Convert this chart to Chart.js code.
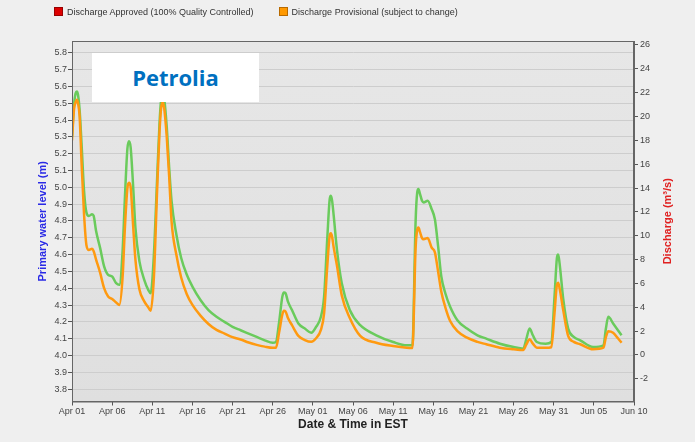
<!DOCTYPE html>
<html>
<head>
<meta charset="utf-8">
<script src="https://cdn.jsdelivr.net/npm/chart.js@4"></script>
<style>
  body { margin: 0; background: #efefef; }
  #wrap { position: relative; width: 695px; height: 442px; }
  #legend { position: absolute; left: 54px; top: 7px; font: 9px "Liberation Sans", Arial, sans-serif; color: #333; white-space: nowrap; }
  #legend span.item { display: inline-block; margin-right: 25px; }
  #legend i { display: inline-block; width: 7px; height: 7px; margin-right: 4px; vertical-align: -1px; }
  #station { position: absolute; left: 92px; top: 53px; width: 167px; height: 49px; background: #fff;
    font: bold 22px "Open Sans", sans-serif; color: #0070c0; text-align: center; line-height: 49px; }
</style>
</head>
<body>
<div id="wrap">
  <canvas id="chart" width="695" height="442"></canvas>
  <div id="legend"></div>
  <div id="station">Petrolia</div>
</div>
<script>
// days since Apr 01
const days = [
  0, 0.25, 0.45, 0.6, 0.75, 0.95, 1.2, 1.5, 1.8, 2.1, 2.5, 2.7, 3.0, 3.5, 4.0, 4.5, 5.0, 5.5, 5.9,
  6.3, 6.6, 6.9, 7.1, 7.3, 7.6, 7.9, 8.4, 9.0, 9.5, 9.8, 10.2, 10.6, 10.9, 11.1, 11.3, 11.5, 11.8,
  12.1, 12.4, 13.0, 13.6, 14.3, 15.0, 16.0, 17.0, 18.0, 19.0, 20.0, 21.0, 22.0, 23.0,
  24.0, 25.0, 25.4, 25.8, 26.2, 26.4, 26.6, 26.9, 27.4, 28.2, 29.0, 29.8, 30.4, 31.0, 31.4,
  31.8, 32.1, 32.25, 32.4, 32.6, 33.0, 33.6, 34.6, 35.9, 37.9, 40.0, 41.7, 42.4, 42.8, 43.0, 43.15, 43.35,
  43.6, 43.8, 44.3, 44.8, 45.2, 45.6, 46.0, 46.5, 47.1, 48.0, 49.2, 50.5, 51.6, 53.3, 55.0,
  56.2, 56.6, 57.0, 57.4, 57.9, 59.0, 59.7, 60.1, 60.4, 60.55, 60.7, 61.2, 61.8, 62.5, 63.3,
  64.9, 66.2, 66.5, 66.8, 67.4, 68.0, 68.45
];
// primary water level (m)
const level = [
  5.30, 5.49, 5.56, 5.57, 5.55, 5.46, 5.25, 4.98, 4.85, 4.83, 4.84, 4.83, 4.74, 4.64, 4.53, 4.48, 4.47, 4.43, 4.42,
  4.62, 4.95, 5.23, 5.275, 5.24, 5.02, 4.76, 4.56, 4.45, 4.39, 4.37, 4.60, 5.05, 5.38, 5.52, 5.56, 5.52, 5.36,
  5.12, 4.92, 4.72, 4.58, 4.48, 4.41, 4.33, 4.27, 4.23, 4.20, 4.17, 4.15, 4.13, 4.11,
  4.09, 4.075, 4.08, 4.20, 4.35, 4.375, 4.37, 4.32, 4.27, 4.19, 4.16, 4.135, 4.17, 4.23, 4.35,
  4.70, 4.93, 4.95, 4.92, 4.83, 4.63, 4.43, 4.27, 4.18, 4.12, 4.08, 4.06, 4.06, 4.80, 4.97, 4.99, 4.96,
  4.92, 4.91, 4.92, 4.87, 4.81, 4.65, 4.47, 4.37, 4.29, 4.21, 4.16, 4.12, 4.10, 4.07, 4.05,
  4.04, 4.10, 4.16, 4.12, 4.08, 4.07, 4.08, 4.35, 4.58, 4.60, 4.56, 4.33, 4.16, 4.11, 4.09,
  4.05, 4.06, 4.16, 4.23, 4.19, 4.15, 4.12
];
// discharge, provisional (m3/s)
const discharge = [
  18.0, 20.6, 21.2, 21.4, 21.1, 20.0, 16.0, 11.8, 9.2, 8.8, 8.9, 8.7, 8.0, 6.9, 5.6, 4.9, 4.7, 4.4, 4.2,
  6.5, 10.8, 14.0, 14.45, 14.1, 11.0, 8.0, 5.5, 4.5, 4.0, 3.7, 6.5, 13.8, 18.7, 20.7, 21.2, 20.6, 18.3,
  15.0, 11.2, 8.4, 6.5, 5.1, 4.2, 3.3, 2.6, 2.1, 1.8, 1.5, 1.3, 1.05, 0.85,
  0.7, 0.6, 0.6, 1.9, 3.4, 3.7, 3.65, 3.1, 2.5, 1.6, 1.25, 1.1, 1.4, 2.1, 3.5,
  7.5, 10.0, 10.2, 9.9, 9.0, 7.5, 5.0, 3.1, 1.6, 1.03, 0.75, 0.6, 0.58, 9.0, 10.5, 10.7, 10.3,
  9.8, 9.7, 9.8, 9.0, 8.6, 7.0, 5.3, 4.0, 2.85, 2.0, 1.45, 1.1, 0.9, 0.61, 0.48,
  0.42, 0.9, 1.31, 0.95, 0.61, 0.6, 0.65, 3.5, 5.9, 6.06, 5.7, 3.7, 1.6, 1.1, 0.9,
  0.48, 0.61, 1.5, 2.0, 1.87, 1.4, 1.03
];

const xTickLabels = ["Apr 01", "Apr 06", "Apr 11", "Apr 16", "Apr 21", "Apr 26", "May 01", "May 06",
  "May 11", "May 16", "May 21", "May 26", "May 31", "Jun 05", "Jun 10"];
const levelTicks = [3.8, 3.9, 4.0, 4.1, 4.2, 4.3, 4.4, 4.5, 4.6, 4.7, 4.8, 4.9, 5.0, 5.1, 5.2, 5.3, 5.4, 5.5, 5.6, 5.7, 5.8];
const dischargeTicks = [-2, 0, 2, 4, 6, 8, 10, 12, 14, 16, 18, 20, 22, 24, 26];

const legendLabels = ["Discharge Approved (100% Quality Controlled)", "Discharge Provisional (subject to change)"];
const legendColors = ["#dd0000", "#ff9900"];
const legendBorders = ["#990000", "#b86a00"];

const tickFont = { family: "'Liberation Sans', Arial, sans-serif", size: 9 };
const tickColor = "#444";

const pts = (ys) => days.map((d, i) => ({ x: d, y: ys[i] }));

// legend
const legend = document.getElementById("legend");
legendLabels.forEach((txt, i) => {
  const s = document.createElement("span");
  s.className = "item";
  s.innerHTML = '<i style="background:' + legendColors[i] + ';border:1px solid ' + legendBorders[i] + '"></i>' + txt;
  legend.appendChild(s);
});

const plotFrame = {
  id: "plotFrame",
  beforeDraw(chart) {
    const { ctx, chartArea: a } = chart;
    ctx.save();
    const g = ctx.createLinearGradient(0, a.top, 0, a.bottom);
    g.addColorStop(0, "#e7e7e7");
    g.addColorStop(1, "#dfdfdf");
    ctx.fillStyle = g;
    ctx.fillRect(a.left, a.top, a.right - a.left, a.bottom - a.top);
    ctx.restore();
  },
  afterDraw(chart) {
    const { ctx, chartArea: a } = chart;
    ctx.save();
    ctx.strokeStyle = "#666";
    ctx.lineWidth = 1;
    ctx.strokeRect(a.left + 0.5, a.top + 0.5, a.right - a.left - 1, a.bottom - a.top);
    // right axis title, reading bottom to top
    ctx.translate(668, (a.top + a.bottom) / 2);
    ctx.rotate(-Math.PI / 2);
    ctx.fillStyle = "#e02020";
    ctx.font = "bold 11px 'Liberation Sans', Arial, sans-serif";
    ctx.textAlign = "center";
    ctx.textBaseline = "middle";
    ctx.fillText("Discharge (m\u00b3/s)", 0, 0);
    ctx.restore();
  }
};

new Chart(document.getElementById("chart"), {
  type: "line",
  data: {
    datasets: [
      {
        label: legendLabels[0],
        data: [],
        borderColor: legendColors[0],
        yAxisID: "yQ",
      },
      {
        label: legendLabels[1],
        data: pts(discharge),
        borderColor: "#ff9a10",
        borderWidth: 2.5,
        pointRadius: 0,
        cubicInterpolationMode: "monotone",
        yAxisID: "yQ",
      },
      {
        label: "Primary water level",
        data: pts(level),
        borderColor: "#6acb5c",
        borderWidth: 2.5,
        pointRadius: 0,
        cubicInterpolationMode: "monotone",
        yAxisID: "yL",
      },
    ],
  },
  options: {
    responsive: false,
    animation: false,
    layout: { padding: { top: 41, left: 0, right: 0, bottom: 0 } },
    plugins: {
      legend: { display: false },
      tooltip: { enabled: false },
    },
    scales: {
      x: {
        type: "linear",
        min: 0,
        max: 70,
        afterFit: (s) => { s.height = 40.5; },
        ticks: {
          stepSize: 5,
          autoSkip: false,
          maxRotation: 0,
          padding: 1,
          font: tickFont,
          color: tickColor,
          callback: (v, i) => xTickLabels[i],
        },
        grid: { drawOnChartArea: false, tickLength: 4, tickColor: "#555" },
        border: { color: "#666" },
        title: {
          display: true,
          text: "Date & Time in EST",
          color: "#222",
          font: { family: "'Liberation Sans', Arial, sans-serif", size: 12, weight: "bold" },
          padding: { top: 0, bottom: 10 },
        },
      },
      yL: {
        position: "left",
        min: 3.726,
        max: 5.871,
        afterFit: (s) => { s.width = 72; },
        afterBuildTicks: (s) => { s.ticks = levelTicks.map((v) => ({ value: v })); },
        ticks: {
          padding: 1,
          font: tickFont,
          color: tickColor,
          callback: (v) => v.toFixed(1),
        },
        grid: { color: "#cdcdcd", tickLength: 4, tickColor: "#555" },
        border: { color: "#666" },
        title: {
          display: true,
          text: "Primary water level (m)",
          color: "#2a2ae6",
          font: { family: "'Liberation Sans', Arial, sans-serif", size: 11, weight: "bold" },
          padding: { top: 36, bottom: 0 },
        },
      },
      yQ: {
        position: "right",
        min: -3.9,
        max: 26.33,
        afterFit: (s) => { s.width = 61; },
        afterBuildTicks: (s) => { s.ticks = dischargeTicks.map((v) => ({ value: v })); },
        ticks: {
          padding: 2,
          font: tickFont,
          color: tickColor,
          callback: (v) => String(v),
        },
        grid: { drawOnChartArea: false, tickLength: 4, tickColor: "#555" },
        border: { color: "#666" },
      },
    },
  },
  plugins: [plotFrame],
});
</script>
</body>
</html>
